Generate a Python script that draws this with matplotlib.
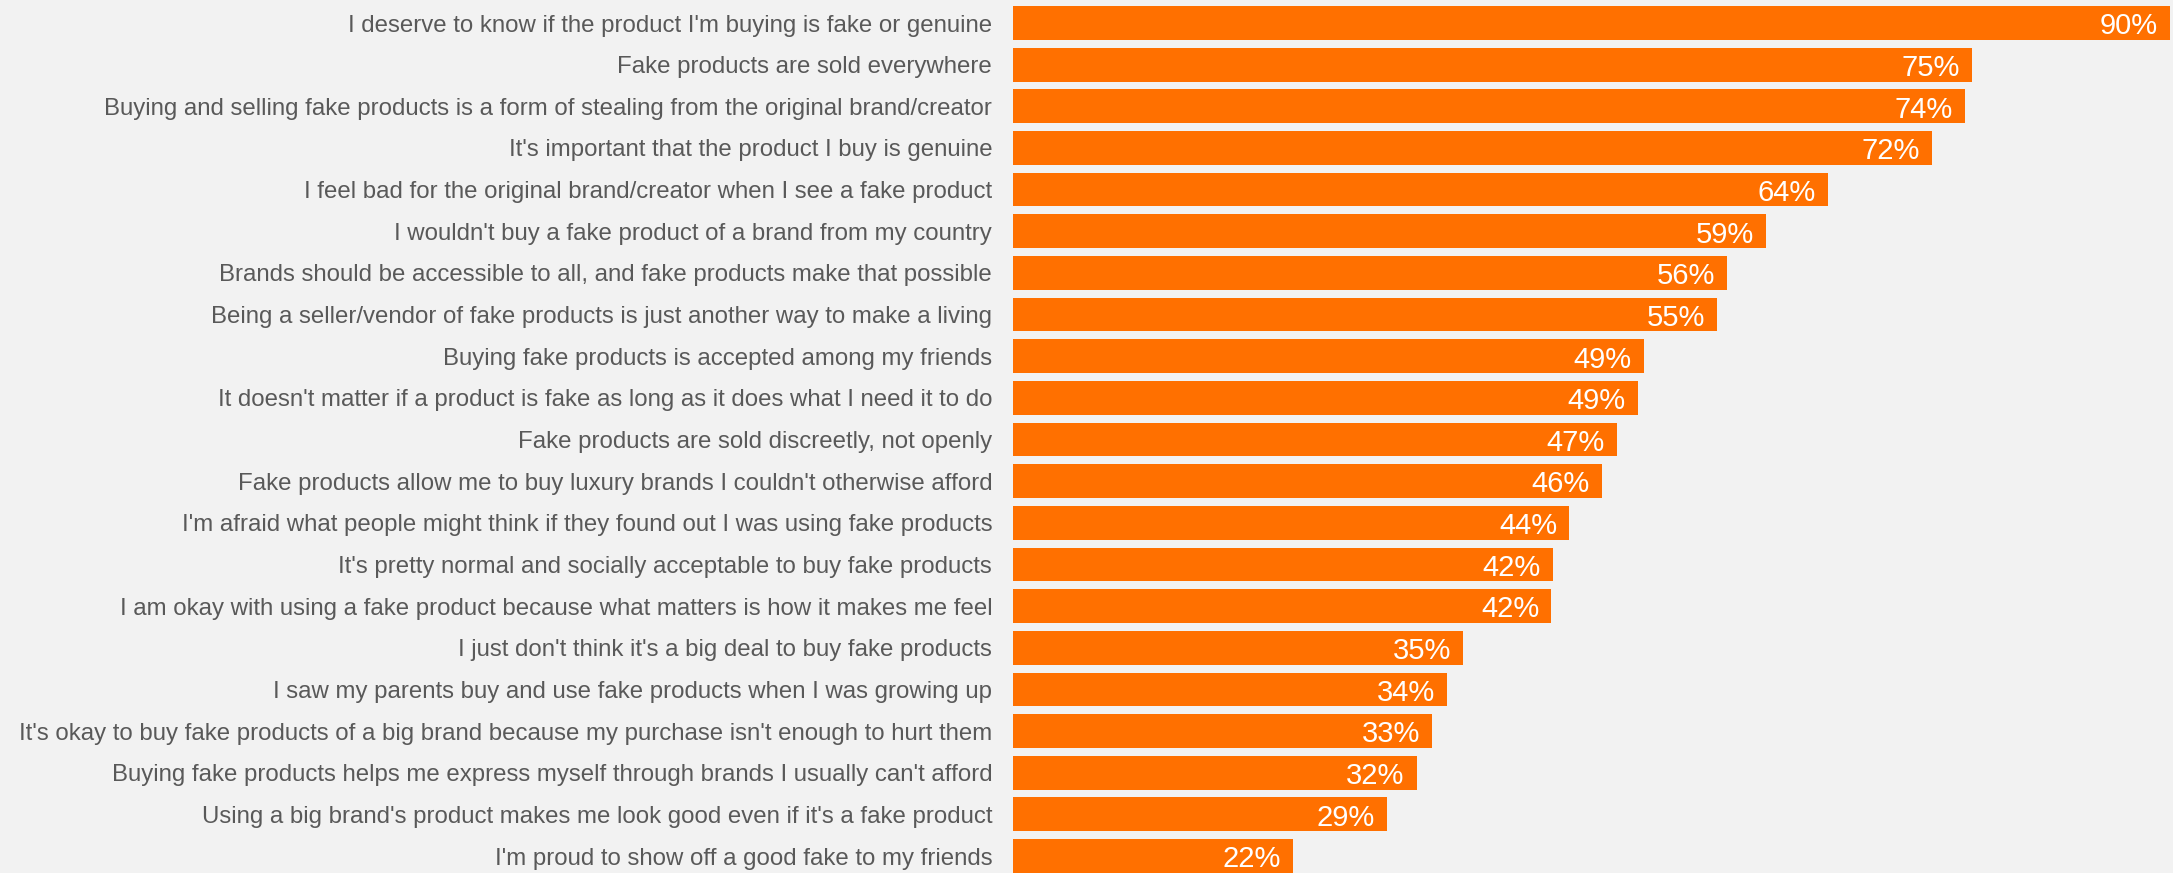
import matplotlib
matplotlib.use("Agg")
import matplotlib.pyplot as plt

categories = [
    "I deserve to know if the product I'm buying is fake or genuine",
    "Fake products are sold everywhere",
    "Buying and selling fake products is a form of stealing from the original brand/creator",
    "It's important that the product I buy is genuine",
    "I feel bad for the original brand/creator when I see a fake product",
    "I wouldn't buy a fake product of a brand from my country",
    "Brands should be accessible to all, and fake products make that possible",
    "Being a seller/vendor of fake products is just another way to make a living",
    "Buying fake products is accepted among my friends",
    "It doesn't matter if a product is fake as long as it does what I need it to do",
    "Fake products are sold discreetly, not openly",
    "Fake products allow me to buy luxury brands I couldn't otherwise afford",
    "I'm afraid what people might think if they found out I was using fake products",
    "It's pretty normal and socially acceptable to buy fake products",
    "I am okay with using a fake product because what matters is how it makes me feel",
    "I just don't think it's a big deal to buy fake products",
    "I saw my parents buy and use fake products when I was growing up",
    "It's okay to buy fake products of a big brand because my purchase isn't enough to hurt them",
    "Buying fake products helps me express myself through brands I usually can't afford",
    "Using a big brand's product makes me look good even if it's a fake product",
    "I'm proud to show off a good fake to my friends",
]
values = [90.0, 74.6, 74.1, 71.5, 63.4, 58.6, 55.6, 54.8, 49.1, 48.6, 47.0,
          45.8, 43.3, 42.0, 41.9, 35.0, 33.8, 32.6, 31.4, 29.1, 21.8]
value_labels = ["90%", "75%", "74%", "72%", "64%", "59%", "56%", "55%", "49%", "49%",
                "47%", "46%", "44%", "42%", "42%", "35%", "34%", "33%", "32%", "29%", "22%"]

BG = "#F2F2F2"
BAR = "#FF7000"
TXT = "#595959"

W, H, DPI = 2173, 873, 100
fig = plt.figure(figsize=(W / DPI, H / DPI), dpi=DPI, facecolor=BG)
left = 1013 / W
ax = fig.add_axes([left, 0, 1 - left, 1], facecolor=BG)

ypos = list(range(len(categories)))
ax.barh(ypos, values, height=0.81, color=BAR, zorder=2)

ax.set_xlim(0, 90.27)
pitch = 41.65
ax.set_ylim(20 + (H - 856) / pitch, -23 / pitch)

ax.set_yticks(ypos)
ax.set_yticklabels(categories, fontsize=17.3, color=TXT, family="Liberation Sans")
ax.tick_params(axis="y", length=0, pad=15)
ax.set_xticks([])
for s in ax.spines.values():
    s.set_visible(False)

pad = 12 * 90.27 / (W - 1013)
for y, v, lab in zip(ypos, values, value_labels):
    ax.text(v - pad, y + 0.08, lab, ha="right", va="center", color="white",
            fontsize=21, family="Liberation Sans", zorder=3)

fig.savefig("out.png", dpi=DPI, facecolor=BG)
